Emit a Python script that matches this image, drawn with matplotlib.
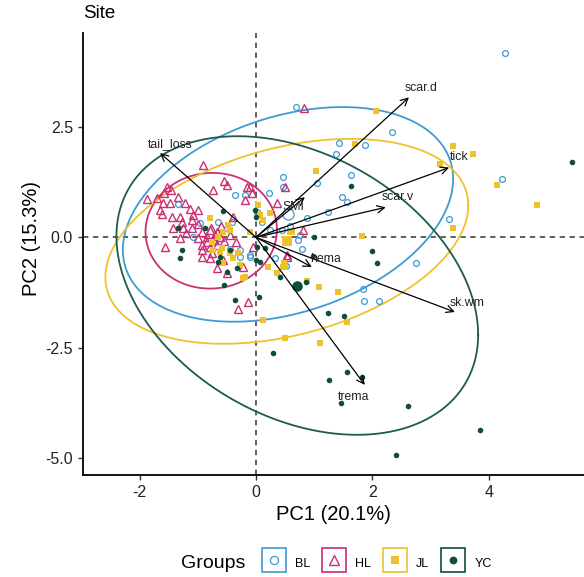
import numpy as np
import matplotlib
matplotlib.use("Agg")
import matplotlib.pyplot as plt
from matplotlib.lines import Line2D
from matplotlib.legend_handler import HandlerTuple

plt.rcParams['font.family'] = ['Liberation Sans', 'DejaVu Sans']

# group colours / markers
groups = ['BL', 'HL', 'JL', 'YC']
colors = {'BL': '#3E9BD4', 'HL': '#CB2F74', 'JL': '#EEC12E', 'YC': '#0D4F3C'}

# individuals (PC1, PC2)
bl_x = [4.28, 0.69, 2.34, 1.43, 1.87, 1.37, 0.46, 1.63, 1.05, 0.22, 1.48, 1.56, 4.23, 3.32,
        1.24, 0.88, 0.76, 0.72, 0.79, 0.33, 2.75, 1.84, 1.86, 2.11, 0.52, 0.46, -0.36, -0.19,
        0.02, -0.41, -0.65, -0.96, -0.50, -1.08, -1.34, -0.45, -0.27, -0.27, -0.10, -0.70,
        -0.10, 0.10, 0.24, 0.45, 0.58]
bl_y = [4.17, 2.95, 2.38, 2.13, 2.09, 1.88, 1.36, 1.41, 1.23, 1.00, 0.91, 0.80, 1.32, 0.41,
        0.57, 0.44, 0.05, -0.06, -0.26, -0.47, -0.58, -1.17, -1.44, -1.44, -0.65, 1.14, 0.96, 0.96,
        0.57, 0.35, 0.35, 0.32, 0.21, 0.01, 0.75, -0.26, -0.29, -0.45, -0.40, -0.11,
        -0.45, 0.35, 0.17, 0.17, 0.26]

hl_x = [-0.91, -0.55, -0.50, -0.74, -1.53, -1.46, -1.87, -1.70, -1.34, -1.60, -1.48, -1.22,
        -1.13, -1.00, -1.65, -1.62, -1.31, -1.08, -1.27, -1.10, -0.19, -0.10, -1.43, -1.25,
        -1.10, -0.93, -0.79, -0.67, -1.31, -1.00, -0.84, -0.74, -0.62, -0.93, -0.79, -0.67,
        -0.93, -0.76, -0.93, -0.79, -0.57, -0.67, -0.22, -0.50, -0.15, -0.07, -1.56, -0.14,
        -0.31, -0.05, 0.53, 0.82, 0.50, 0.36, 0.81, 0.53, -0.70, -0.55, -0.85, -0.60, -0.45,
        -1.20, -1.00, -0.35, -0.40, -1.45, -1.58]
hl_y = [1.64, 1.27, 1.18, 1.07, 1.14, 1.07, 0.87, 0.89, 0.91, 0.78, 0.78, 0.78,
        0.64, 0.62, 0.62, 0.53, 0.46, 0.50, 0.35, 0.39, 0.84, 1.14, 0.21, 0.21,
        0.21, 0.12, 0.17, 0.12, -0.02, -0.02, 0.01, -0.04, 0.01, -0.17, -0.22, -0.17,
        -0.29, -0.36, -0.45, -0.47, -0.51, -0.69, -0.67, -0.81, 1.14, 1.00, -0.22, -1.46,
        -1.62, -0.22, -0.45, 2.93, 1.14, 0.78, 0.17, -0.40, 0.05, -0.08, -0.10, 0.25, 0.05,
        0.10, 0.30, -0.10, 0.45, 0.45, 1.00]

jl_x = [2.06, 3.38, 3.73, 3.16, 4.14, 4.83, 3.38, 1.03, 1.70, 1.82, 0.62, 0.12, 1.08, 1.41,
        0.88, 1.56, 1.10, 0.50, 0.12, 0.48, 0.21, 0.36, -0.22, 0.46, -0.79, -0.45, -0.76,
        -0.58, -0.45, -0.57, -0.40, -0.27, -0.19, -0.48, -0.57, -0.65, -0.74, -0.62, -0.31,
        0.03, 0.07, 0.24, -0.10, 0.50, 0.53, 0.58]
jl_y = [2.86, 2.06, 1.88, 1.66, 1.18, 0.73, 0.21, 1.50, 2.11, 0.03, 0.12, 0.39, -1.12, -1.24,
        -0.99, -1.92, -2.39, -2.28, -1.87, -0.58, -0.67, -0.81, -0.92, -0.67, 0.44, 0.17, -0.11,
        -0.24, -0.36, -0.58, -0.47, -0.63, -0.90, 0.28, 0.12, 0.01, -0.29, -0.33, -0.36,
        0.73, 0.50, 0.55, 0.12, -0.67, -0.04, 0.12]

yc_x = [5.43, 1.63, 1.00, 1.99, 2.08, 0.98, 0.86, 0.41, 0.05, 1.24, 1.51, 0.29, 1.25, 1.56,
        1.82, 1.46, 2.61, 3.85, 2.41, 0.07, 0.15, -0.55, -0.36, -1.27, -0.50, 0.00, -0.57,
        -0.02, -1.34, -1.31, -0.62, -0.33, 0.02, -0.88, -0.45, 0.00, -0.65]
yc_y = [1.70, 1.16, 0.01, -0.31, -0.58, -0.42, -1.01, -0.90, -1.35, -1.71, -1.78, -2.62, -3.23, -3.05,
        -3.16, -3.75, -3.82, -4.36, -4.92, -0.56, -0.24, -1.07, -1.41, -0.29, -0.79, -0.51, 0.60,
        0.62, 0.21, -0.47, -0.45, -0.69, -0.22, 0.21, -0.29, 0.46, -0.56]

# group means and ellipse shape (half-width, half-height, correlation)
means = {'BL': (0.55, 0.52), 'HL': (-0.77, 0.15), 'JL': (0.53, -0.09), 'YC': (0.71, -1.09)}
ell_sx = {'BL': 2.84, 'HL': 1.13, 'JL': 3.12, 'YC': 3.11}
ell_sy = {'BL': 2.43, 'HL': 1.31, 'JL': 2.32, 'YC': 3.38}
ell_r = {'BL': 0.33, 'HL': 0.02, 'JL': 0.35, 'YC': -0.33}

# variable loadings (arrow tips) and label positions
var_names = ['tail_loss', 'scar.d', 'tick', 'scar.v', 'SMI', 'hema', 'sk.wm', 'trema']
var_x = [-1.65, 2.63, 3.32, 2.23, 0.84, 0.96, 3.42, 1.87]
var_y = [1.91, 3.17, 1.58, 0.68, 0.91, -0.67, -1.69, -3.34]
lab_x = [-1.48, 2.84, 3.49, 2.44, 0.65, 1.20, 3.63, 1.68]
lab_y = [2.11, 3.38, 1.82, 0.91, 0.68, -0.49, -1.49, -3.61]

pts = {'BL': (bl_x, bl_y), 'HL': (hl_x, hl_y), 'JL': (jl_x, jl_y), 'YC': (yc_x, yc_y)}
style = {
    'BL': dict(marker='o', ms=4.2, mfc='none', mew=0.9),
    'HL': dict(marker='^', ms=5.2, mfc='none', mew=1.0),
    'JL': dict(marker='s', ms=4.0, mew=0),
    'YC': dict(marker='o', ms=4.0, mew=0),
}

fig = plt.figure(figsize=(5.84, 5.77), dpi=100)
ax = fig.add_axes([82.7 / 584, 1 - 475 / 577, 1 - 82.7 / 584, (475 - 33.3) / 577])

for g in groups:
    x, y = pts[g]
    st = dict(style[g])
    ax.plot(x, y, ls='none', color=colors[g], mec=colors[g], zorder=3, **st)
    # mean point, larger
    st['ms'] = st['ms'] * 1.9
    ax.plot([means[g][0]], [means[g][1]], ls='none', color=colors[g], mec=colors[g], zorder=3, **st)

t = np.linspace(0, 2 * np.pi, 300)
for g in groups:
    cx, cy = means[g]
    r = ell_r[g]
    ex = cx + ell_sx[g] * np.cos(t)
    ey = cy + ell_sy[g] * (r * np.cos(t) + np.sqrt(1 - r ** 2) * np.sin(t))
    ec = '#1F5B4A' if g == 'YC' else colors[g]
    ax.plot(ex, ey, color=ec, lw=1.3, zorder=2)

ax.axhline(0, color='#333333', lw=1.1, ls=(0, (3.5, 3)), zorder=1)
ax.axvline(0, color='#333333', lw=1.1, ls=(0, (3.5, 3)), zorder=1)

for name, vx, vy, tx, ty in zip(var_names, var_x, var_y, lab_x, lab_y):
    ax.annotate('', xy=(vx, vy), xytext=(0, 0),
                arrowprops=dict(arrowstyle='->', lw=0.9, color='black',
                                mutation_scale=13, shrinkA=0, shrinkB=0), zorder=4)
    ax.text(tx, ty, name, fontsize=8.8, color='#222222', ha='center', va='center', zorder=5)

ax.set_xlim(-2.98, 5.64)
ax.set_ylim(-5.38, 4.62)
ax.set_xticks([-2, 0, 2, 4])
ax.set_yticks([-5.0, -2.5, 0.0, 2.5])
ax.set_yticklabels(['-5.0', '-2.5', '0.0', '2.5'])
ax.set_xticklabels(['-2', '0', '2', '4'])
for s in ['top', 'right']:
    ax.spines[s].set_visible(False)
for s in ['left', 'bottom']:
    ax.spines[s].set_linewidth(1.3)
ax.tick_params(labelsize=11.5, length=3.5, width=1.0, colors='#333333', labelcolor='#222222')
ax.set_xlabel('PC1 (20.1%)', fontsize=14.5, labelpad=4)
ax.set_ylabel('PC2 (15.3%)', fontsize=14.5)
ax.yaxis.set_label_coords(-0.083, 0.535)

fig.text(83 / 584, 1 - 13 / 577, 'Site', fontsize=13.5, ha='left', va='center')

# legend
handles = []
for g in groups:
    box = Line2D([], [], ls='none', marker='s', ms=17, mfc='white', mec=colors[g], mew=1.2)
    st = dict(style[g])
    st['ms'] = st['ms'] * 1.4
    inner = Line2D([], [], ls='none', color=colors[g], mec=colors[g], **st)
    handles.append((box, inner))
fig.text(181 / 584, 1 - 563 / 577, 'Groups', fontsize=14, ha='left', va='center')
fig.legend(handles, groups, handler_map={tuple: HandlerTuple(ndivide=1)},
           loc='center left', bbox_to_anchor=(255 / 584, 1 - 563 / 577), ncol=4,
           frameon=False, fontsize=9, borderpad=0, handlelength=2.0, handleheight=2.0,
           handletextpad=0.7, columnspacing=0.9)

fig.savefig('out.png', dpi=100)
